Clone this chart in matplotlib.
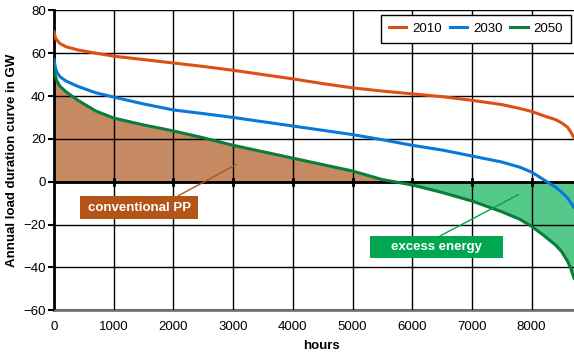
import matplotlib
matplotlib.use("Agg")
import matplotlib.pyplot as plt
from matplotlib.patches import Rectangle
import numpy as np

plt.rcParams['font.family'] = ['Liberation Sans', 'DejaVu Sans']

hours = [0, 25, 50, 100, 200, 400, 700, 1000, 1500, 2000, 2500, 3000, 3500,
         4000, 4500, 5000, 5500, 6000, 6500, 7000, 7500, 7800, 8000, 8200,
         8400, 8500, 8600, 8650, 8710]
load_2010 = [70, 67, 66, 64.5, 63, 61.5, 60, 58.6, 57, 55.4, 53.8, 52, 50,
             48, 45.8, 43.8, 42.3, 41, 39.7, 38, 36, 34.2, 32.8, 30.8,
             29, 27.5, 25.5, 23.5, 20.5]
load_2030 = [57, 53, 51, 49, 47, 44.5, 41.5, 39.5, 36.3, 33.5, 31.8, 30, 28,
             26, 24, 22, 19.6, 17, 14.8, 12, 9.2, 6.8, 4.5, 1,
             -2.5, -4.8, -7.5, -9.5, -12]
load_2050 = [52, 49, 47, 44.5, 42, 38, 33, 29.7, 26.5, 23.7, 20.5, 17, 14,
             11, 8, 5, 1, -1.5, -5, -9, -14, -17.5, -20.8, -25,
             -29.5, -32.5, -37, -40, -45]
years = ['2010', '2030', '2050']
x_ticks = [0, 1000, 2000, 3000, 4000, 5000, 6000, 7000, 8000]
y_ticks = [-60, -40, -20, 0, 20, 40, 60, 80]

c2010, c2030, c2050 = '#dc5014', '#0a78d8', '#0a7d3a'
fill_pos, fill_neg = '#c68a62', '#55c98a'
box_pos, box_neg = '#b35418', '#00a650'

fig = plt.figure(figsize=(5.74, 3.52), dpi=100)
ax = fig.add_axes([54 / 574, 1 - 310.3 / 352, 1 - 54 / 574, 300 / 352])

h = np.array(hours)
g = np.array(load_2050)
ax.fill_between(h, g, 0, where=g >= 0, interpolate=True, color=fill_pos,
                linewidth=0, zorder=1)
ax.fill_between(h, g, 0, where=g <= 0, interpolate=True, color=fill_neg,
                linewidth=0, zorder=1)

ax.set_xlim(0, 8710)
ax.set_ylim(-60, 80)
ax.set_xticks(x_ticks)
ax.set_yticks(y_ticks)
ax.grid(True, color='black', linewidth=1.0, zorder=2)
ax.set_axisbelow(False)

for s in ['top', 'right']:
    ax.spines[s].set_visible(False)
ax.spines['left'].set_linewidth(2.0)
ax.spines['left'].set_color('black')
ax.spines['bottom'].set_linewidth(2.0)
ax.spines['bottom'].set_color('#777777')
ax.axhline(80, color='#999999', linewidth=1.5, zorder=2)
ax.axhline(0, color='black', linewidth=2.0, zorder=3)
for xt in x_ticks[1:]:
    ax.plot([xt, xt], [-1.3, 1.3], color='black', linewidth=2.0, zorder=3)

ax.tick_params(axis='y', length=4, width=1.5, direction='out', labelsize=9.5,
               pad=2)
ax.tick_params(axis='x', length=0, labelsize=9.5, pad=8)

ax.plot(hours, load_2010, color=c2010, linewidth=2.2, label=years[0], zorder=4)
ax.plot(hours, load_2030, color=c2030, linewidth=2.2, label=years[1], zorder=4)
ax.plot(hours, load_2050, color=c2050, linewidth=2.2, label=years[2], zorder=4)

leg = ax.legend(loc='upper right', ncol=3, fontsize=9.5, frameon=True,
                fancybox=False, edgecolor='black', framealpha=1,
                handlelength=1.3, handletextpad=0.45, columnspacing=0.6,
                bbox_to_anchor=(0.994, 0.985), borderaxespad=0,
                borderpad=0.6)
leg.get_frame().set_linewidth(1.0)
leg.set_zorder(6)

ax.set_ylabel('Annual load duration curve in GW', fontsize=9.5,
              fontweight='bold', labelpad=4)
ax.set_xlabel('hours', fontsize=9.5, fontweight='bold', labelpad=1)
ax.xaxis.set_label_coords(0.515, -0.1)


def callout(label, color, box, anchor, target):
    """Filled label box (axes fraction) with a thin leader line to a data point."""
    x0, y0, x1, y1 = box
    ax.add_patch(Rectangle((x0, y0), x1 - x0, y1 - y0, transform=ax.transAxes,
                           facecolor=color, edgecolor='none', zorder=7))
    ax.text((x0 + x1) / 2, (y0 + y1) / 2, label, transform=ax.transAxes,
            ha='center', va='center', color='white', fontsize=9.5,
            fontweight='bold', zorder=8)
    ax.annotate('', xy=target, xycoords='data', xytext=anchor,
                textcoords='axes fraction', zorder=7,
                arrowprops=dict(arrowstyle='-', color=color, lw=1.0,
                                shrinkA=0, shrinkB=0))


callout('conventional PP', box_pos, (0.050, 0.3035, 0.2775, 0.3813),
        (0.2385, 0.3813), (3050, 8))
callout('excess energy', box_neg, (0.6077, 0.1734, 0.8629, 0.2478),
        (0.7423, 0.2478), (7780, -6))

fig.savefig('out.png', dpi=100)
